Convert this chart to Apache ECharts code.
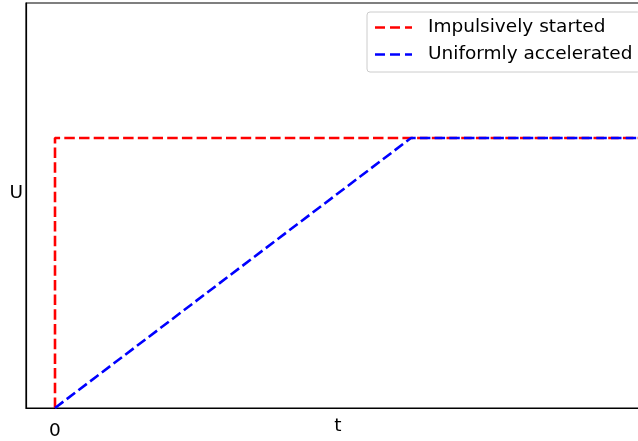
<!DOCTYPE html>
<html>
<head>
<meta charset="utf-8">
<script src="https://cdn.jsdelivr.net/npm/echarts@6/dist/echarts.min.js"></script>
<style>html,body{margin:0;padding:0;background:#fff;}#c{width:638px;height:441px;}</style>
</head>
<body>
<div id="c"></div>
<script>
var seriesNames = ['Impulsively started', 'Uniformly accelerated'];
var impulsive = [[0, 0], [0, 1], [2, 1]];
var uniform = [[0, 0], [1, 1], [2, 1]];
var xTickValues = [0];

var chart = echarts.init(document.getElementById('c'), null, {renderer: 'canvas'});
var dash = [10.5, 4.2];
var font = 'DejaVu Sans';
var fs = 18.5;
chart.setOption({
  animation: false,
  backgroundColor: '#fff',
  grid: {left: 26, top: 3, width: 624, height: 405, show: true, borderColor: '#000', borderWidth: 1.2,
         containLabel: false, outerBoundsMode: 'none'},
  legend: {
    left: 367, top: 12, orient: 'vertical',
    padding: [6, 8, 8, 8], itemGap: 8, itemWidth: 37, itemHeight: 2.6,
    icon: 'path://M0,0h10v2.6h-10z M15,0h10v2.6h-10z M30,0h7v2.6h-7z',
    backgroundColor: '#fff', borderColor: '#cccccc', borderWidth: 1, borderRadius: 3,
    textStyle: {fontFamily: font, fontSize: fs, color: '#000', lineHeight: 19, padding: [0, 0, 0, 11]},
    data: seriesNames
  },
  xAxis: {
    type: 'value', min: -29 / 356, max: 595 / 356,
    name: 't', nameLocation: 'middle', nameGap: 9, nameMoveOverlap: false,
    nameTextStyle: {fontFamily: font, fontSize: fs, color: '#000'},
    axisLine: {show: true, onZero: false, lineStyle: {color: '#000', width: 1.2}},
    axisTick: {show: false},
    splitLine: {show: false},
    axisLabel: {customValues: xTickValues, fontFamily: font, fontSize: fs, color: '#000', margin: 14,
      formatter: function (v) { return String(v); }}
  },
  yAxis: {
    type: 'value', min: 0, max: 1.5,
    name: 'U', nameLocation: 'middle', nameGap: 3, nameRotate: 0, nameMoveOverlap: false,
    nameTextStyle: {fontFamily: font, fontSize: fs, color: '#000', verticalAlign: 'bottom', lineHeight: 25},
    axisLine: {show: true, onZero: false, lineStyle: {color: '#000', width: 1.2}},
    axisTick: {show: false}, axisLabel: {show: false}, splitLine: {show: false}
  },
  series: [
    {name: seriesNames[0], type: 'line', data: impulsive, symbol: 'none', showSymbol: false,
     color: '#ff0000', lineStyle: {color: '#ff0000', width: 2.6, type: dash}},
    {name: seriesNames[1], type: 'line', data: uniform, symbol: 'none', showSymbol: false,
     color: '#0000ff', lineStyle: {color: '#0000ff', width: 2.6, type: dash}}
  ]
});
</script>
</body>
</html>
